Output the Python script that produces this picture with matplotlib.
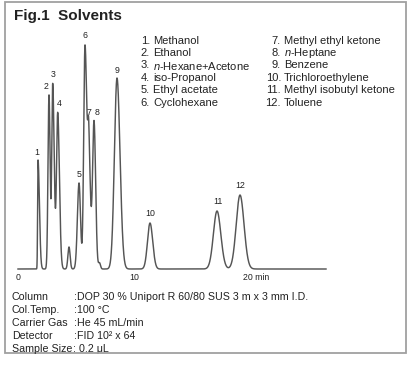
import numpy as np
import matplotlib
matplotlib.use("Agg")
import matplotlib.pyplot as plt
from matplotlib.patches import Rectangle
import matplotlib.transforms as mtransforms

plt.rcParams['font.family'] = ['Liberation Sans', 'DejaVu Sans']
plt.rcParams['mathtext.fontset'] = 'custom'
plt.rcParams['mathtext.it'] = 'Liberation Sans:italic'
plt.rcParams['mathtext.rm'] = 'Liberation Sans'

# ---- data: peaks (time in min, height in arbitrary units)
peak_times   = [1.724, 2.672, 2.991, 3.422, 4.397, 5.259, 5.776, 6.103, 6.552, 7.026, 8.534, 11.379, 17.155, 19.138]
peak_heights = [109, 174, 185, 156, 22, 86, 224, 109, 148, 6, 191, 46, 58, 74]
sigma_left   = [0.034, 0.086, 0.082, 0.103, 0.095, 0.138, 0.112, 0.086, 0.129, 0.086, 0.224, 0.216, 0.310, 0.328]
sigma_right  = [0.121, 0.095, 0.129, 0.147, 0.095, 0.129, 0.172, 0.138, 0.138, 0.086, 0.259, 0.233, 0.328, 0.345]
peak_labels  = ['1', '2', '3', '4', '', '5', '6', '7', '8', '', '9', '10', '11', '12']
run_end = 26.55

tick_values = [0, 10, 20]
tick_labels = ['0', '10', '20 min']

title = "Fig.1  Solvents"
legend_left  = [("1.", "Methanol"), ("2.", "Ethanol"), ("3.", "$n$-Hexane+Acetone"),
                ("4.", "iso-Propanol"), ("5.", "Ethyl acetate"), ("6.", "Cyclohexane")]
legend_right = [("7.", "Methyl ethyl ketone"), ("8.", "$n$-Heptane"), ("9.", "Benzene"),
                ("10.", "Trichloroethylene"), ("11.", "Methyl isobutyl ketone"), ("12.", "Toluene")]
cond_names  = ["Column", "Col.Temp.", "Carrier Gas", "Detector", "Sample Size"]
cond_values = ["DOP 30 % Uniport R 60/80 SUS 3 m x 3 mm I.D.", "100 °C",
               "He 45 mL/min", "FID 10² x 64", "0.2 μL"]

# ---- figure
W, H = 410, 365
fig = plt.figure(figsize=(W / 100, H / 100), dpi=100)
fig.patch.set_facecolor('white')
TXT = '#222222'

def fx(x):
    return x / W

def fy(y):
    return 1 - y / H

ax = fig.add_axes([fx(18), fy(269), (326 - 18) / W, (269 - 30) / H])
ax.set_xlim(0, run_end)
ax.set_ylim(0, 239)
for s in ax.spines.values():
    s.set_visible(False)
ax.set_yticks([])
ax.patch.set_alpha(0)

t = np.linspace(0, run_end, 8000)
sig = np.zeros_like(t)
for rt, h, sl, sr in zip(peak_times, peak_heights, sigma_left, sigma_right):
    s = np.where(t < rt, sl, sr)
    sig += h * np.exp(-0.5 * ((t - rt) / s) ** 2)
ax.plot(t, sig, color='#555555', lw=1.05, clip_on=False)

ax.set_xticks(tick_values)
ax.set_xticklabels(tick_labels, fontsize=6.3, color=TXT)
ax.tick_params(axis='x', length=0, pad=3)
lab = ax.get_xticklabels()[-1]
lab.set_ha('left')
lab.set_transform(lab.get_transform() + mtransforms.ScaledTranslation(-7 / 100, 0, fig.dpi_scale_trans))

# peak labels (offsets in pixels from the peak apex)
offsets = [(-1, 8), (-3, 8), (0, 9), (2, 9), (0, 0), (0, 9), (0, 9), (0.5, 10), (3, 8), (0, 0),
           (0, 8), (0, 10), (1, 10), (0, 10)]
for rt, lbl, (dx, dy) in zip(peak_times, peak_labels, offsets):
    if not lbl:
        continue
    top = np.interp(rt, t, sig)
    ax.annotate(lbl, xy=(rt, top), xytext=(dx, dy), textcoords='offset pixels',
                ha='center', va='center', fontsize=6.3, color=TXT, annotation_clip=False)

# frame
fig.patches.append(Rectangle((fx(5), fy(353)), (406 - 5) / W, (353 - 2) / H,
                             transform=fig.transFigure, fill=False, ec='#a0a0a0', lw=1.3))

fig.text(fx(14), fy(16), title, fontsize=11, fontweight='bold', color=TXT,
         ha='left', va='center')

row_y = [41, 53, 65.5, 78, 90, 102.5]
for (n, name), y in zip(legend_left, row_y):
    fig.text(fx(150), fy(y), n, fontsize=8.0, ha='right', va='center', color=TXT)
    fig.text(fx(153), fy(y), name, fontsize=8.0, ha='left', va='center', color=TXT)
for (n, name), y in zip(legend_right, row_y):
    fig.text(fx(281), fy(y), n, fontsize=8.0, ha='right', va='center', color=TXT)
    fig.text(fx(284), fy(y), name, fontsize=8.0, ha='left', va='center', color=TXT)

cond_y = [297, 310, 323, 336, 349]
for i, (name, val, y) in enumerate(zip(cond_names, cond_values, cond_y)):
    lbl_t = fig.text(fx(12), fy(y), name, fontsize=7.7, ha='left', va='center', color=TXT)
    if i < 4:
        fig.text(fx(74), fy(y), ":" + val, fontsize=7.7, ha='left', va='center', color=TXT)
    else:
        colon = fig.text(0, 0, "", fontsize=7.7)
        colon.set_visible(False)
        c = ax.annotate(":", xy=(1, 0.5), xycoords=lbl_t, xytext=(0.5, 0),
                        textcoords='offset points', ha='left', va='center',
                        fontsize=7.7, color=TXT, annotation_clip=False)
        ax.annotate(val, xy=(1, 0.5), xycoords=c, xytext=(1.8, 0),
                    textcoords='offset points', ha='left', va='center',
                    fontsize=7.7, color=TXT, annotation_clip=False)

fig.savefig("out.png", dpi=100, facecolor='white')
